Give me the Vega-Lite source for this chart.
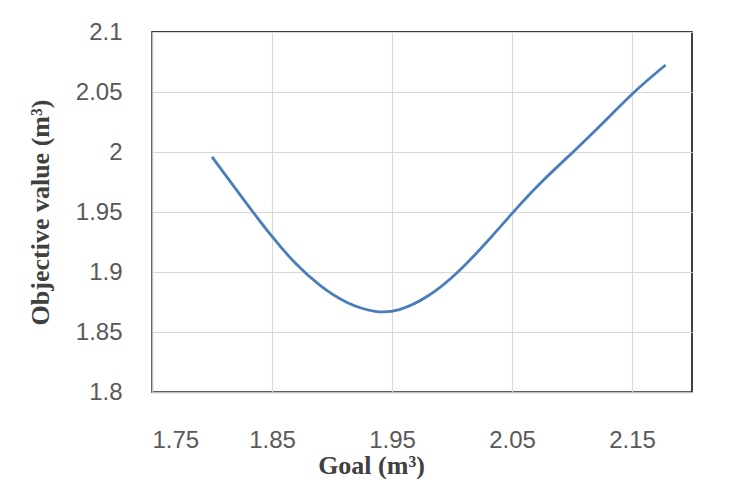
{
  "$schema": "https://vega.github.io/schema/vega-lite/v6.json",
  "width": 540,
  "height": 360,
  "autosize": "none",
  "padding": {"left": 152, "top": 32, "right": 39, "bottom": 100},
  "background": "white",
  "config": {
    "view": {"stroke": "black", "strokeWidth": 1.5},
    "axis": {
      "labelFont": "Liberation Sans",
      "labelFontSize": 24,
      "labelColor": "#595959",
      "titleFont": "Liberation Serif",
      "titleFontSize": 26,
      "titleFontWeight": "bold",
      "titleColor": "#404040",
      "gridColor": "#d9d9d9",
      "gridWidth": 1.2,
      "domainColor": "#bfbfbf",
      "domainWidth": 1.5,
      "ticks": false
    }
  },
  "data": {
    "values": [
      {"goal": 1.800, "objective": 1.996},
      {"goal": 1.825, "objective": 1.962},
      {"goal": 1.850, "objective": 1.929},
      {"goal": 1.870, "objective": 1.906},
      {"goal": 1.890, "objective": 1.888},
      {"goal": 1.912, "objective": 1.8735},
      {"goal": 1.937, "objective": 1.8658},
      {"goal": 1.955, "objective": 1.867},
      {"goal": 1.980, "objective": 1.8785},
      {"goal": 2.006, "objective": 1.900},
      {"goal": 2.032, "objective": 1.928},
      {"goal": 2.050, "objective": 1.949},
      {"goal": 2.073, "objective": 1.974},
      {"goal": 2.101, "objective": 2.000},
      {"goal": 2.126, "objective": 2.024},
      {"goal": 2.151, "objective": 2.050},
      {"goal": 2.178, "objective": 2.0725}
    ]
  },
  "mark": {"type": "line", "color": "#4a7ebb", "strokeWidth": 2.8, "interpolate": "basis"},
  "encoding": {
    "x": {
      "field": "goal",
      "type": "quantitative",
      "scale": {"domain": [1.75, 2.2], "nice": false, "zero": false},
      "axis": {
        "title": "Goal (m³)",
        "values": [1.75, 1.85, 1.95, 2.05, 2.15],
        "format": ".2f",
        "labelPadding": 36,
        "titlePadding": 0,
        "titleX": 219
      }
    },
    "y": {
      "field": "objective",
      "type": "quantitative",
      "scale": {"domain": [1.8, 2.1], "nice": false, "zero": false},
      "axis": {
        "title": "Objective value (m³)",
        "values": [1.8, 1.85, 1.9, 1.95, 2, 2.05, 2.1],
        "format": "~g",
        "labelPadding": 30,
        "titlePadding": 22
      }
    }
  }
}
